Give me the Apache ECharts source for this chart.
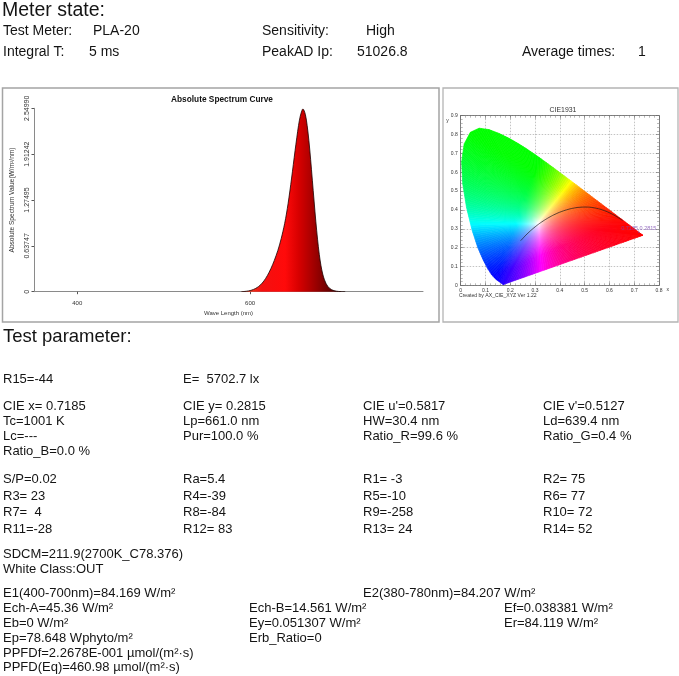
<!DOCTYPE html>
<html><head><meta charset="utf-8">
<script src="https://cdn.jsdelivr.net/npm/echarts@6/dist/echarts.min.js"></script>
<style>html,body{margin:0;padding:0;background:#fff;}#c{width:679px;height:676px;}</style>
</head><body><div id="c"></div>
<script>
// ---------------- data ----------------
const specWavelength = [590,592,594,596,598,600,602,604,606,608,610,612,614,616,618,620,622,624,626,628,630,632,634,636,638,640,642,644,646,648,650,652,654,656,658,660,661,662,664,666,668,670,672,674,676,678,680,682,684,686,688,690,692,694,696,698,700,702,704,706,710];
const specValue = [0,0.002,0.004,0.007,0.011,0.016,0.023,0.032,0.043,0.057,0.074,0.095,0.12,0.15,0.185,0.225,0.27,0.32,0.375,0.435,0.50,0.57,0.65,0.74,0.84,0.95,1.08,1.23,1.40,1.58,1.77,1.96,2.14,2.31,2.44,2.52,2.54,2.53,2.46,2.31,2.10,1.84,1.55,1.26,0.98,0.73,0.52,0.36,0.245,0.165,0.11,0.072,0.047,0.030,0.019,0.012,0.007,0.004,0.002,0.001,0];
const specYTickValues = [0, 0.637475, 1.27495, 1.912425, 2.5499];
const specYTickLabels = ['0', '0.63747', '1.27495', '1.91242', '2.54990'];
const specXTickValues = [400, 600];

// CIE 1931 spectral locus (380..700 nm)
const locusX = [0.1741,0.1740,0.1738,0.1736,0.1733,0.1730,0.1726,0.1721,0.1714,0.1703,0.1689,0.1669,0.1644,0.1611,0.1566,0.1510,0.1440,0.1355,0.1241,0.1096,0.0913,0.0687,0.0454,0.0235,0.0082,0.0039,0.0139,0.0389,0.0743,0.1142,0.1547,0.1929,0.2296,0.2658,0.3016,0.3373,0.3731,0.4087,0.4441,0.4788,0.5125,0.5448,0.5752,0.6029,0.6270,0.6482,0.6658,0.6801,0.6915,0.7006,0.7079,0.7140,0.7190,0.7230,0.7260,0.7283,0.7300,0.7311,0.7320,0.7334,0.7344,0.7347];
const locusY = [0.0050,0.0050,0.0049,0.0049,0.0048,0.0048,0.0048,0.0048,0.0051,0.0058,0.0069,0.0086,0.0109,0.0138,0.0177,0.0227,0.0297,0.0399,0.0578,0.0868,0.1327,0.2007,0.2950,0.4127,0.5384,0.6548,0.7502,0.8120,0.8338,0.8262,0.8059,0.7816,0.7543,0.7243,0.6923,0.6589,0.6245,0.5896,0.5547,0.5202,0.4866,0.4544,0.4242,0.3965,0.3725,0.3514,0.3340,0.3197,0.3083,0.2993,0.2920,0.2859,0.2809,0.2770,0.2740,0.2717,0.2700,0.2689,0.2680,0.2666,0.2656,0.2653];
// Planckian locus 1000 K .. very high T
const planckX = [0.6528,0.6251,0.5985,0.5730,0.5493,0.5267,0.5056,0.4770,0.4520,0.4369,0.4053,0.3805,0.3608,0.3451,0.3325,0.3221,0.3135,0.3064,0.2952,0.2869,0.2807,0.2719,0.2637,0.2565,0.2501,0.2420];
const planckY = [0.3444,0.3674,0.3858,0.3993,0.4082,0.4133,0.4152,0.4137,0.4086,0.4041,0.3907,0.3768,0.3636,0.3516,0.3411,0.3318,0.3237,0.3166,0.3048,0.2956,0.2884,0.2776,0.2671,0.2574,0.2483,0.2370];
const measuredXY = [0.7185, 0.2815];

// report text
const meterRow1 = ['Test Meter:', 'PLA-20', 'Sensitivity:', 'High'];
const meterRow2 = ['Integral T:', '5 ms', 'PeakAD Ip:', '51026.8', 'Average times:', '1'];
const paramRow0 = ['R15=-44', 'E=  5702.7 lx'];
const paramRowsA = [
  ['CIE x= 0.7185', 'CIE y= 0.2815', "CIE u'=0.5817", "CIE v'=0.5127"],
  ['Tc=1001 K', 'Lp=661.0 nm', 'HW=30.4 nm', 'Ld=639.4 nm'],
  ['Lc=---', 'Pur=100.0 %', 'Ratio_R=99.6 %', 'Ratio_G=0.4 %'],
  ['Ratio_B=0.0 %']
];
const renderRows = [
  ['S/P=0.02', 'Ra=5.4', 'R1= -3', 'R2= 75'],
  ['R3= 23', 'R4=-39', 'R5=-10', 'R6= 77'],
  ['R7=  4', 'R8=-84', 'R9=-258', 'R10= 72'],
  ['R11=-28', 'R12= 83', 'R13= 24', 'R14= 52']
];
const sdcmRows = ['SDCM=211.9(2700K_C78.376)', 'White Class:OUT'];
const energyRow1 = ['E1(400-700nm)=84.169 W/m²', 'E2(380-780nm)=84.207 W/m²'];
const energyRows = [
  ['Ech-A=45.36 W/m²', 'Ech-B=14.561 W/m²', 'Ef=0.038381 W/m²'],
  ['Eb=0 W/m²', 'Ey=0.051307 W/m²', 'Er=84.119 W/m²'],
  ['Ep=78.648 Wphyto/m²', 'Erb_Ratio=0'],
  ['PPFDf=2.2678E-001 µmol/(m²·s)'],
  ['PPFD(Eq)=460.98 µmol/(m²·s)']
];

// ---------------- layout / style ----------------
const FONT = '"Liberation Sans", Arial, sans-serif';
const TXT = '#141414';
const graphics = [];
function txt(s, x, y, size, fill) {
  graphics.push({
    type: 'text', x: x, y: y, silent: true,
    style: { text: s, font: size + 'px ' + FONT, fill: fill || TXT,
      align: 'left', verticalAlign: 'middle', textAlign: 'left', textVerticalAlign: 'middle' }
  });
}
txt('Meter state:', 2, 10.2, 19.5);
[3, 93, 262, 366].forEach((x, i) => txt(meterRow1[i], x, 31, 14));
[3, 89, 262, 357, 522, 638].forEach((x, i) => txt(meterRow2[i], x, 52.5, 14));
txt('Test parameter:', 3, 337, 18.5);
const cols4 = [3, 183, 363, 543];
paramRow0.forEach((s, i) => txt(s, cols4[i], 379.5, 13));
paramRowsA.forEach((row, r) => row.forEach((s, i) => txt(s, cols4[i], 406.7 + r * 15, 13)));
renderRows.forEach((row, r) => row.forEach((s, i) => txt(s, cols4[i], 479.5 + r * 16.7, 13)));
sdcmRows.forEach((s, r) => txt(s, 3, 554 + r * 15.5, 13));
txt(energyRow1[0], 3, 593.3, 13); txt(energyRow1[1], 363, 593.3, 13);
const eCols = [3, 249, 504];
energyRows.forEach((row, r) => row.forEach((s, i) => txt(s, eCols[i], 608.3 + r * 14.9, 13)));
// panel frames
graphics.push({ type: 'rect', silent: true, z: -1, shape: { x: 2.5, y: 88, width: 436.5, height: 234 }, style: { fill: 'none', stroke: '#a4a4a4', lineWidth: 1.5 } });
graphics.push({ type: 'rect', silent: true, z: -1, shape: { x: 443, y: 88, width: 235, height: 234 }, style: { fill: 'none', stroke: '#b4b4b4', lineWidth: 1.3 } });
txt('Created by AX_CIE_XYZ Ver 1.22', 459, 295.5, 5.1, '#333');

// chromaticity colour (styling only)
const WP = [0.3127, 0.3290];
function xyToRgb(x, y) {
  y = Math.max(y, 1e-4);
  const X = x / y, Y = 1, Z = (1 - x - y) / y;
  let r = 3.2406 * X - 1.5372 * Y - 0.4986 * Z;
  let g = -0.9689 * X + 1.8758 * Y + 0.0415 * Z;
  let b = 0.0557 * X - 0.2040 * Y + 1.0570 * Z;
  r = Math.max(r, 0); g = Math.max(g, 0); b = Math.max(b, 0);
  const m = Math.max(r, g, b) || 1;
  return 'rgb(' + Math.round(255 * r / m) + ',' + Math.round(255 * g / m) + ',' + Math.round(255 * b / m) + ')';
}
const fanData = locusX.map((x, i) => {
  const j = (i + 1) % locusX.length;
  return [x, locusY[i], locusX[j], locusY[j]];
});
function renderFan(params, api) {
  const x1 = api.value(0), y1 = api.value(1), x2 = api.value(2), y2 = api.value(3);
  const p1 = api.coord([x1, y1]), p2 = api.coord([x2, y2]);
  const len = Math.hypot(p2[0] - p1[0], p2[1] - p1[1]);
  const pieces = Math.max(1, Math.ceil(len / 2.5));
  const c = api.coord(WP);
  const children = [];
  for (let k = 0; k < pieces; k++) {
    const ax = x1 + (x2 - x1) * k / pieces, ay = y1 + (y2 - y1) * k / pieces;
    const bx = x1 + (x2 - x1) * (k + 1) / pieces, by = y1 + (y2 - y1) * (k + 1) / pieces;
    const mx = (ax + bx) / 2, my = (ay + by) / 2;
    const pm = api.coord([mx, my]);
    const stops = [];
    for (let s = 0; s <= 12; s++) {
      const t = s / 12;
      stops.push({ offset: t, color: xyToRgb(WP[0] + (mx - WP[0]) * t, WP[1] + (my - WP[1]) * t) });
    }
    const grad = new echarts.graphic.LinearGradient(c[0], c[1], pm[0], pm[1], stops, true);
    children.push({ type: 'polygon', shape: { points: [c, api.coord([ax, ay]), api.coord([bx, by])] },
      style: { fill: grad, stroke: grad, lineWidth: 0.7 } });
  }
  return { type: 'group', children: children };
}

const axisGrey = '#8a8a8a';
const cieAxisCommon = {
  type: 'value', gridIndex: 1,
  axisLine: { show: true, onZero: false, lineStyle: { color: '#666', width: 0.8 } },
  axisTick: { show: true, inside: true, length: 3, lineStyle: { color: '#666', width: 0.6 } },
  minorTick: { show: true, splitNumber: 5, length: 2, lineStyle: { color: '#777', width: 0.5 } },
  axisLabel: { show: true, fontSize: 5, color: '#333', margin: 3, fontFamily: FONT },
  splitLine: { show: true, lineStyle: { color: '#9a9a9a', width: 0.6, type: [1.5, 1.5] } }
};

const option = {
  animation: false,
  backgroundColor: '#fff',
  textStyle: { fontFamily: FONT },
  title: [
    { text: 'Absolute Spectrum Curve', left: 222, top: 96, padding: 0, textAlign: 'center',
      textStyle: { fontSize: 8.3, fontWeight: 'bold', color: '#111', fontFamily: FONT } },
    { text: 'CIE1931', left: 563, top: 106.5, padding: 0, textAlign: 'center',
      textStyle: { fontSize: 6.9, fontWeight: 'normal', color: '#333', fontFamily: FONT } }
  ],
  grid: [
    { left: 34, top: 108.3, width: 389, height: 183.4, containLabel: false },
    { left: 460.7, top: 115.7, width: 198.3, height: 169.6, containLabel: false }
  ],
  xAxis: [
    { type: 'value', gridIndex: 0, min: 350, max: 800,
      axisLine: { show: true, onZero: false, lineStyle: { color: axisGrey, width: 1 } },
      axisTick: { show: true, customValues: specXTickValues, length: 2.5, lineStyle: { color: '#555' } },
      axisLabel: { customValues: specXTickValues, fontSize: 6, color: '#333', margin: 8.5 },
      splitLine: { show: false },
      name: 'Wave Length (nm)', nameLocation: 'middle', nameGap: 18.5,
      nameTextStyle: { fontSize: 6, color: '#333' } },
    Object.assign({}, cieAxisCommon, { min: 0, max: 0.8, interval: 0.1,
      name: 'x', nameLocation: 'end', nameGap: 2.5,
      nameTextStyle: { fontSize: 5, color: '#333', verticalAlign: 'top', padding: [1.5, 0, 0, 0] } }),
    Object.assign({}, cieAxisCommon, { min: 0, max: 0.8, interval: 0.1, position: 'top',
      axisLabel: { show: false }, splitLine: { show: false } })
  ],
  yAxis: [
    { type: 'value', gridIndex: 0, min: 0, max: 2.5499,
      axisLine: { show: true, lineStyle: { color: axisGrey, width: 1 } },
      axisTick: { show: true, customValues: specYTickValues, length: 2.5, lineStyle: { color: '#555' } },
      axisLabel: { customValues: specYTickValues, rotate: 90, fontSize: 7, color: '#333', margin: 3,
        formatter: function (v) {
          let best = 0;
          specYTickValues.forEach((t, i) => { if (Math.abs(t - v) < Math.abs(specYTickValues[best] - v)) best = i; });
          return specYTickLabels[best];
        } },
      splitLine: { show: false },
      name: 'Absolute Spectrum Value(W/m²/nm)', nameLocation: 'middle', nameGap: 18,
      nameTextStyle: { fontSize: 6.6, color: '#333' } },
    Object.assign({}, cieAxisCommon, { min: 0, max: 0.9, interval: 0.1,
      name: 'y', nameLocation: 'end', nameGap: -5,
      nameTextStyle: { fontSize: 5, color: '#333', align: 'right', verticalAlign: 'middle', padding: [0, 12, 0, 0] } }),
    Object.assign({}, cieAxisCommon, { min: 0, max: 0.9, interval: 0.1, position: 'right',
      axisLabel: { show: false }, splitLine: { show: false } })
  ],
  series: [
    { type: 'line', xAxisIndex: 0, yAxisIndex: 0, smooth: 0.35, symbol: 'none', showSymbol: false,
      data: specWavelength.map((w, i) => [w, specValue[i]]),
      lineStyle: { color: '#1a0000', width: 0.8 },
      areaStyle: { opacity: 1, color: new echarts.graphic.LinearGradient(0, 0, 1, 0, [
        { offset: 0, color: '#e84a1e' }, { offset: 0.2, color: '#f41010' }, { offset: 0.42, color: '#ff0a0a' },
        { offset: 0.55, color: '#d80000' }, { offset: 0.66, color: '#b00000' }, { offset: 0.8, color: '#7a0000' },
        { offset: 1, color: '#300000' }]) } },
    { type: 'custom', xAxisIndex: 1, yAxisIndex: 1, renderItem: renderFan, data: fanData,
      encode: { x: [0, 2], y: [1, 3] }, clip: false, silent: true, z: 2 },
    { type: 'line', xAxisIndex: 1, yAxisIndex: 1, smooth: true, symbol: 'none', showSymbol: false,
      data: planckX.map((x, i) => [x, planckY[i]]), lineStyle: { color: '#1a1a1a', width: 0.7 }, z: 3 },
    { type: 'scatter', xAxisIndex: 1, yAxisIndex: 1, symbolSize: 1.5, z: 4,
      itemStyle: { color: '#7040a0' }, data: [measuredXY],
      label: { show: true, position: 'top', distance: 0.5, fontSize: 5.5, color: '#7a48b0',
        formatter: p => p.value[0] + ',' + p.value[1] } }
  ],
  graphic: { elements: graphics }
};
const chart = echarts.init(document.getElementById('c'), null, { renderer: 'canvas' });
chart.setOption(option);
</script></body></html>
